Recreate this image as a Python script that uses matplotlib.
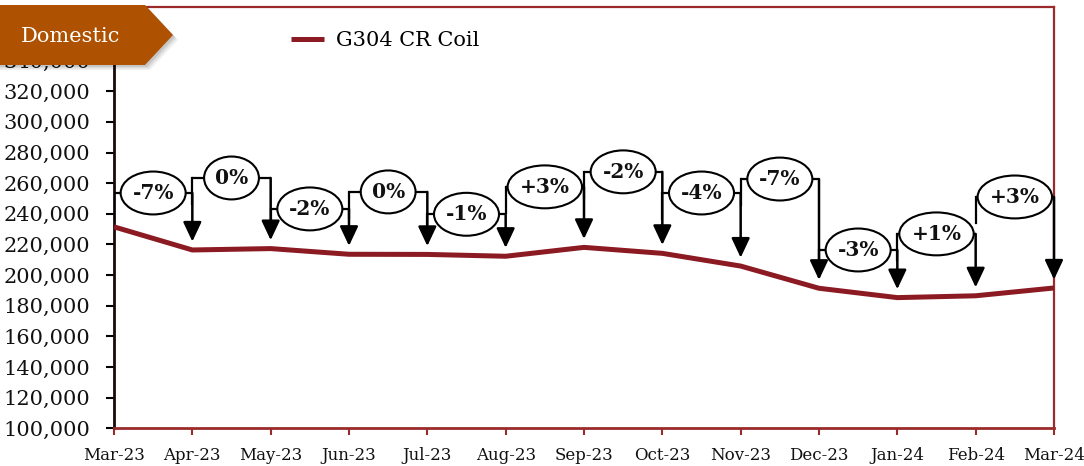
import matplotlib
matplotlib.use("Agg")
import matplotlib.pyplot as plt
from matplotlib.patches import Ellipse, Polygon
from matplotlib.ticker import FuncFormatter, MultipleLocator

# ---------------- data ----------------
months = ["Mar-23", "Apr-23", "May-23", "Jun-23", "Jul-23", "Aug-23", "Sep-23",
          "Oct-23", "Nov-23", "Dec-23", "Jan-24", "Feb-24", "Mar-24"]
price = [231500, 216400, 217300, 213600, 213500, 212300, 218100,
         214200, 205900, 191400, 185300, 186500, 191600]
change_labels = ["-7%", "0%", "-2%", "0%", "-1%", "+3%", "-2%",
                 "-4%", "-7%", "-3%", "+1%", "+3%"]
series_name = "G304 CR Coil"
badge_text = "Domestic"

# annotation bracket heights (layout)
bracket_level = [253600, 263400, 243200, 254300, 239700, 257600, 267400,
                 253600, 262700, 216400, 226900, 251000]

W, H = 1084, 466
fig = plt.figure(figsize=(W / 100, H / 100), dpi=100)
plt.rcParams['font.family'] = ['DejaVu Serif']

L, R, T, B = 114, 1054, 7, 428.3
ax = fig.add_axes([L / W, 1 - B / H, (R - L) / W, (B - T) / H])

line_color = "#8B1A22"
border_color = "#9B2B2B"

x = list(range(len(months)))
ax.plot(x, price, color=line_color, lw=3.6, solid_capstyle="butt",
        label=series_name, zorder=3)

ax.set_xlim(0, len(months) - 1)
ax.set_ylim(100000, 375000)
ax.set_xticks(x)
ax.set_xticklabels(months)
ax.yaxis.set_major_locator(MultipleLocator(20000))
ax.yaxis.set_major_formatter(FuncFormatter(lambda v, p: f"{int(v):,}"))

for s in ["top", "right"]:
    ax.spines[s].set_color(border_color)
    ax.spines[s].set_linewidth(1.6)
ax.spines["bottom"].set_color(border_color)
ax.spines["bottom"].set_linewidth(2)
ax.spines["left"].set_color("#1a0a0a")
ax.spines["left"].set_linewidth(2)

ax.tick_params(axis="y", direction="out", length=6, width=1.5, color="black",
               labelsize=15, pad=11, labelcolor="#111111")
ax.tick_params(axis="x", direction="out", length=5, width=1.5, color=border_color,
               labelsize=12, pad=8.5, labelcolor="#111111")

# ---------------- change annotations ----------------
ell_h = 28000
leg = 17000
gap = 5500
for i, lab in enumerate(change_labels):
    h = bracket_level[i]
    x0, x1 = i, i + 1
    ax.plot([x0, x1], [h, h], color="black", lw=1.6, zorder=4, solid_capstyle="butt")
    ax.plot([x0, x0], [h, h - leg], color="black", lw=1.6, zorder=4)
    ax.annotate("", xy=(x1, price[i + 1] + gap), xytext=(x1, h),
                arrowprops=dict(arrowstyle="-|>,head_length=0.85,head_width=0.4",
                                mutation_scale=14, lw=1.8, color="black",
                                shrinkA=0, shrinkB=0),
                zorder=4, annotation_clip=False)
    if len(lab) == 2:
        w = 0.70
    elif lab.startswith("+"):
        w = 0.95
    else:
        w = 0.83
    e = Ellipse((i + 0.5, h), w, ell_h, facecolor="white", edgecolor="black",
                lw=1.5, zorder=5, clip_on=False)
    ax.add_patch(e)
    ax.text(i + 0.5, h, lab, ha="center", va="center", fontsize=14.5,
            fontweight="bold", zorder=6, color="#111111")

# ---------------- legend ----------------
ax.legend(loc="center left", bbox_to_anchor=(291 / W, 1 - 41 / H),
          bbox_transform=fig.transFigure, frameon=False, fontsize=15,
          handlelength=1.6, handletextpad=0.55, borderaxespad=0, borderpad=0)

# ---------------- badge ----------------
def fp(px, py):
    return (px / W, 1 - py / H)

for k, a in [(5, 0.06), (3.5, 0.08), (2, 0.1)]:
    sh = Polygon([fp(0, 5 + k), fp(145 + k, 5 + k), fp(173 + k, 35 + k),
                  fp(145 + k, 65 + k), fp(0, 65 + k)],
                 closed=True, transform=fig.transFigure, facecolor="#000000",
                 alpha=a, edgecolor="none", zorder=9)
    fig.patches.append(sh)
badge = Polygon([fp(0, 5), fp(145, 5), fp(173, 35), fp(145, 65), fp(0, 65)],
                closed=True, transform=fig.transFigure, facecolor="#AE5100",
                edgecolor="none", zorder=10)
fig.patches.append(badge)
fig.text(70 / W, 1 - 36 / H, badge_text, color="white", fontsize=15,
         ha="center", va="center", zorder=11)

fig.savefig("out.png", dpi=100)
